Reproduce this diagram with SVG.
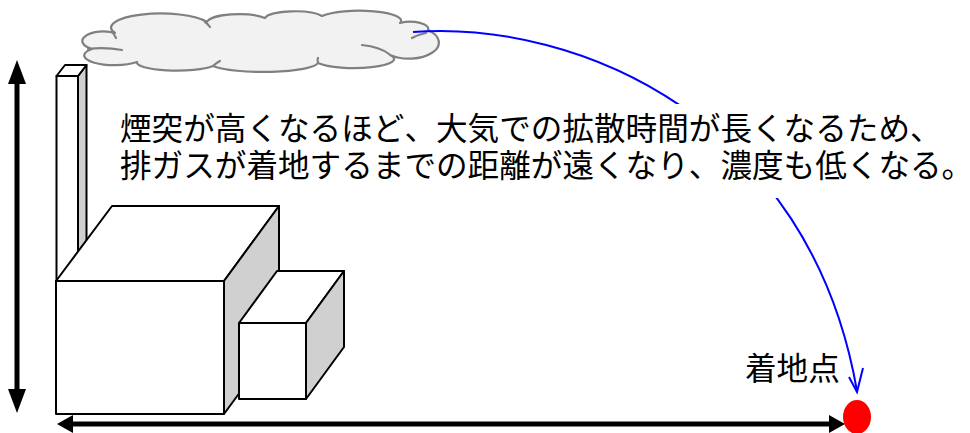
<svg xmlns="http://www.w3.org/2000/svg" width="970" height="433" viewBox="0 0 970 433">
  <style>
    .solid { stroke: #000; stroke-width: 2; stroke-linejoin: round; }
    .face { fill: #fff; }
    .shade { fill: #d0d0d0; }
    .cloud { fill: #f2f2f2; stroke: #808080; stroke-width: 2.2; stroke-linejoin: round; }
    .crease { fill: none; stroke: #808080; stroke-width: 2.2; stroke-linecap: round; }
    .label { font-family: "Noto Sans CJK JP", "Noto Sans", sans-serif; font-size: 31.6px; fill: #000; }
    .plume { fill: none; stroke: #0000ff; stroke-width: 2; }
  </style>

  <!-- smoke cloud -->
  <g id="cloud">
    <path class="cloud" d="M92,49 A20 9 0 0 1 115,33 A50 14 0 0 1 207,22 A32 9 0 0 1 265,18 A30 8 0 0 1 322,16 A42 10 0 0 1 400,23 A18 7 0 0 1 428,30 A24 13 0 0 1 390,55 A40 9 0 0 1 318,63 A55 10 0 0 1 213,66 A40 8 0 0 1 137,62 A25 8 0 0 1 92,49 Z"/>
    <path class="crease" d="M88,49 Q105,47 122,50"/>
    <path class="crease" d="M113,33 Q115,36 116,38"/>
    <path class="crease" d="M205,22 Q208,24 210,27"/>
    <path class="crease" d="M362,45 Q380,47 389,54"/>
    <path class="crease" d="M412,38 Q420,34 426,33"/>
    <path class="crease" d="M213,66 Q216,63 220,61"/>
    <path class="crease" d="M318,63 Q317,60 318,58"/>
  </g>

  <!-- chimney -->
  <g id="chimney">
    <polygon class="solid shade" points="78,76 86.5,65 86.5,270 78,281"/>
    <rect class="solid face" x="56.5" y="76" width="21.5" height="205"/>
    <polygon class="solid face" points="56.5,76 65,65 86.5,65 78,76"/>
  </g>

  <!-- main building -->
  <g id="building-large">
    <polygon class="solid face" points="56,281 112,206 279,206 224,281"/>
    <polygon class="solid shade" points="224,281 279,206 279,339 224,414"/>
    <rect class="solid face" x="56" y="281" width="168" height="133"/>
  </g>

  <!-- annex building -->
  <g id="building-small">
    <polygon class="solid face" points="239,323 277,271 344,271 306,323"/>
    <polygon class="solid shade" points="306,323 344,271 344,347 306,399"/>
    <rect class="solid face" x="239" y="323" width="67" height="76"/>
  </g>

  <!-- connectors: plume path, height and distance arrows -->
  <g id="connectors">
    <path class="plume" d="M413,32 C580,20 810,120 857,391"/>
    <polyline class="plume" points="849,377 857,392 863,368" stroke-linejoin="miter"/>
    <!-- stack height -->
    <line x1="17" y1="80" x2="17" y2="393" stroke="#000" stroke-width="5"/>
    <polygon points="17,60 8,84 26,84" fill="#000"/>
    <polygon points="17,413 8,389 26,389" fill="#000"/>
    <!-- distance to touchdown -->
    <line x1="70" y1="424" x2="832" y2="424" stroke="#000" stroke-width="5"/>
    <polygon points="57,424 73,415 73,433" fill="#000"/>
    <polygon points="845,424 829,415 829,433" fill="#000"/>
  </g>

  <!-- explanation, one full-width cell per character -->
  <g id="note">
    <rect x="110" y="104" width="860" height="94" fill="#fff"/>
    <text class="label" y="140" x="120 151.6 183.2 214.8 246.4 278 309.6 341.2 372.8 404.4 436 467.6 499.2 530.8 562.4 594 625.6 657.2 688.8 720.4 752 783.6 815.2 846.8 878.4 910">煙突が高くなるほど、大気での拡散時間が長くなるため、</text>
    <text class="label" y="177" x="120 151.6 183.2 214.8 246.4 278 309.6 341.2 372.8 404.4 436 467.6 499.2 530.8 562.4 594 625.6 657.2 688.8 720.4 752 783.6 815.2 846.8 878.4 910 941.6">排ガスが着地するまでの距離が遠くなり、濃度も低くなる。</text>
  </g>

  <!-- touchdown point -->
  <g id="touchdown">
    <ellipse cx="857" cy="417" rx="14" ry="17" fill="#ff0000"/>
    <text class="label" x="745" y="380">着地点</text>
  </g>
</svg>
